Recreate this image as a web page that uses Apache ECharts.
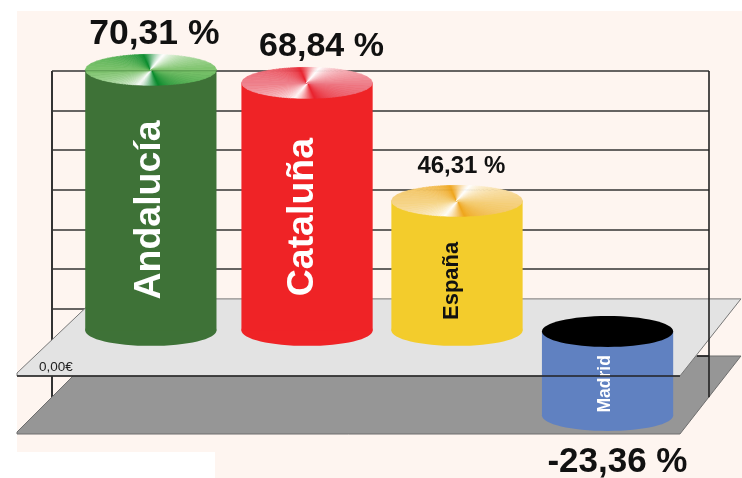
<!DOCTYPE html>
<html><head><meta charset="utf-8">
<style>html,body{margin:0;padding:0;background:#fff}#c{width:742px;height:478px}#c canvas{filter:blur(0.45px)}</style>
<script src="https://cdn.jsdelivr.net/npm/echarts@6/dist/echarts.min.js"></script>
</head><body><div id="c"></div>
<script>
// Categories and printed percentages
const categories = ['Andalucía', 'Cataluña', 'España', 'Madrid'];
const valueLabels = ['70,31 %', '68,84 %', '46,31 %', '-23,36 %'];
// Cylinder extents, in grid units (one grid step = 10)
const barTop = [70.3, 67.0, 37.2, 4.2];
const barBase = [4.5, 4.5, 4.5, -17.0];
const barSlot = [0.0, 1.027, 2.013, 3.003];
const catTextAt = [34.9, 33.1, 17.0, -9.0];
const catTextSlot = [-0.007, 0.996, 1.983, 2.99];
const valueTextAt = [79.4, 76.1, 45.8, -28.9];
const valueTextSlot = [0.023, 1.122, 2.042, 3.068];

const WALL_L = -0.65, WALL_R = 3.67;
const barColor = ['#3e7237', '#ef2326', '#f3cc2c', '#6081c1'];
const catColor = ['#fff', '#fff', '#111', '#fff'];
const catSize = [37.5, 37.5, 22, 17.5];
const valSize = [35.5, 34, 24, 35];
// cone-shaded lids: [base tone, dark tone]; null = flat black
const lid = [['#7cc36b', '#078a2c'], ['#ee808b', '#e9222e'], ['#f5d283', '#efa51c'], null];

function hex(c){return [1,3,5].map(i=>parseInt(c.substr(i,2),16));}
function mix(a,b,t){const A=hex(a),B=hex(b);return 'rgb('+A.map((v,i)=>Math.round(v+(B[i]-v)*t)).join(',')+')';}
function coneColor(deg,base,dark){
  const p=((deg%180)+180)%180;
  if(p<65) return mix(base,dark,p/65);
  if(p<130) return mix(dark,'#ffffff',(p-65)/65);
  return mix('#ffffff',base,(p-130)/50);
}
function renderBack(params,api){
  const P=(x,y)=>api.coord([x,y]);
  const poly=(pts,fill,stroke)=>({type:'polygon',shape:{points:pts.map(p=>P(p[0],p[1]))},style:{fill:fill,stroke:stroke,lineWidth:1}});
  const line=(a,b,col,w)=>{const A=P(a[0],a[1]),B=P(b[0],b[1]);return {type:'line',shape:{x1:A[0],y1:A[1],x2:B[0],y2:B[1]},style:{stroke:col,lineWidth:w}};};
  return {type:'group',children:[
    line([WALL_L,70],[WALL_L,-12.58],'#333',2),
    poly([[-0.88,-21.16],[-0.38,-1.97],[3.88,-1.97],[3.479,-21.67],[-0.88,-21.67]],'#969696','#6e6e6e'),
    line([3.591,-1.97],[WALL_R,-1.97],'#111',1.5),
    poly([[-0.88,-6.26],[-0.367,12.45],[3.88,12.45],[3.479,-7.02],[-0.88,-7.02]],'#e3e3e3','#777')
  ]};
}
function renderBar(params,api){
  const i=params.dataIndex;
  const T=api.coord([barSlot[i],barTop[i]]), B=api.coord([barSlot[i],barBase[i]]);
  const rx=api.size([0.863,0])[0]/2, ry=api.size([0,7.8])[1]/2;
  const kids=[
    {type:'ellipse',shape:{cx:B[0],cy:B[1],rx:rx,ry:ry},style:{fill:barColor[i]}},
    {type:'rect',shape:{x:T[0]-rx,y:T[1],width:2*rx,height:B[1]-T[1]},style:{fill:barColor[i]}}
  ];
  if(lid[i]){
    const STEP=3;
    for(let d=0;d<360;d+=STEP){
      const pt=a=>{const r=a*Math.PI/180,c=Math.cos(r),s=Math.sin(r),k=1/Math.sqrt(c*c/(rx*rx)+s*s/(ry*ry));return [T[0]+k*c,T[1]+k*s];};
      const col=coneColor(d+STEP/2,lid[i][0],lid[i][1]);
      kids.push({type:'polygon',shape:{points:[[T[0],T[1]],pt(d),pt(d+STEP)]},style:{fill:col,stroke:col,lineWidth:0.6}});
    }
  } else {
    kids.push({type:'ellipse',shape:{cx:T[0],cy:T[1],rx:rx,ry:ry},style:{fill:'#000'}});
  }
  if(i===0){
    kids.push({type:'line',shape:{x1:T[0]-rx,y1:T[1]+1,x2:T[0]+rx,y2:T[1]+1},style:{stroke:'rgba(20,60,20,0.3)',lineWidth:1}});
  }
  const C=api.coord([catTextSlot[i],catTextAt[i]]);
  kids.push({type:'text',x:C[0],y:C[1],rotation:Math.PI/2,style:{text:categories[i],fill:catColor[i],
    font:'bold '+catSize[i]+'px "Liberation Sans", Arial, sans-serif',align:'center',verticalAlign:'middle'}});
  return {type:'group',children:kids};
}
function renderFront(params,api){
  const P=(x,y)=>api.coord([x,y]);
  const L=(a,b,col,w)=>{const A=P(a[0],a[1]),B=P(b[0],b[1]);return {type:'line',shape:{x1:A[0],y1:A[1],x2:B[0],y2:B[1]},style:{stroke:col,lineWidth:w}};};
  const zero=P(-0.624,-4.7);
  const kids=[
    L([-0.88,-7.02],[3.479,-7.02],'#222',1.6),
    L([WALL_R,70],[WALL_R,-12.4],'#222',1.6),
    {type:'text',x:zero[0],y:zero[1],style:{text:'0,00€',fill:'#222',font:'13.5px "Liberation Sans", Arial, sans-serif',align:'center',verticalAlign:'middle'}}
  ];
  categories.forEach((_,i)=>{
    const C=P(valueTextSlot[i],valueTextAt[i]);
    kids.push({type:'text',x:C[0],y:C[1],style:{text:valueLabels[i],fill:'#111',
      font:'bold '+valSize[i]+'px "Liberation Sans", Arial, sans-serif',align:'center',verticalAlign:'middle'}});
  });
  return {type:'group',children:kids};
}
const chart=echarts.init(document.getElementById('c'),null,{renderer:'canvas',width:742,height:478});
chart.setOption({
  animation:false,
  backgroundColor:'#ffffff',
  tooltip:{show:false},
  graphic:{elements:[
    {type:'rect',z:-10,silent:true,shape:{x:17,y:11,width:725,height:467},style:{fill:'#fef5f0'}},
    {type:'rect',z:-9,silent:true,shape:{x:17,y:452,width:198,height:26},style:{fill:'#ffffff'}}
  ]},
  grid:{left:52,top:71,width:657,height:237.6},
  xAxis:{type:'value',min:WALL_L,max:WALL_R,show:false},
  yAxis:{type:'value',min:10,max:70,interval:10,
    axisLine:{show:false},axisTick:{show:false},axisLabel:{show:false},
    splitLine:{show:true,lineStyle:{color:'#333',width:1.5}}},
  series:[
    {type:'custom',z:3,silent:true,renderItem:renderBack,data:[[0]],clip:false},
    {type:'custom',z:4,silent:true,renderItem:renderBar,data:categories.map((c,i)=>[barSlot[i],barTop[i]]),clip:false},
    {type:'custom',z:5,silent:true,renderItem:renderFront,data:[[0]],clip:false}
  ]
});
</script></body></html>
